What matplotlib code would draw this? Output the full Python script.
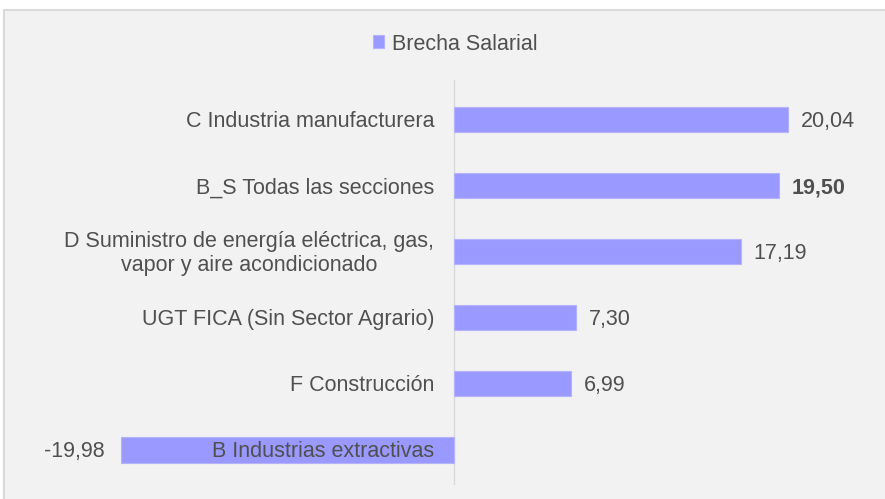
import matplotlib.pyplot as plt
from matplotlib.patches import Rectangle

# data, bottom to top
categories = ['B Industrias extractivas', 'F Construcción', 'UGT FICA (Sin Sector Agrario)',
              'D Suministro de energía eléctrica, gas,\nvapor y aire acondicionado',
              'B_S Todas las secciones', 'C Industria manufacturera']
values = [-19.98, 6.99, 7.30, 17.19, 19.50, 20.04]
value_labels = ['-19,98', '6,99', '7,30', '17,19', '19,50', '20,04']
bold_label = 'B_S Todas las secciones'

W, H = 885, 499
FS = 15.5
plt.rcParams['font.family'] = ['Liberation Sans', 'DejaVu Sans']

fig = plt.figure(figsize=(W / 100, H / 100), dpi=100)
fig.patch.set_facecolor('white')
# grey chart area with border, cut off on right and bottom
fig.patches.append(Rectangle((4 / W, -0.01), 1.0, (H - 10) / H + 0.01, transform=fig.transFigure,
                             facecolor='#F2F2F2', edgecolor='#D9D9D9', linewidth=1.5, zorder=-5))

x0, x1 = 20, 870
y_top, y_bot = 80, 485
ax = fig.add_axes([x0 / W, 1 - y_bot / H, (x1 - x0) / W, (y_bot - y_top) / H])
ax.set_facecolor('none')
ax.set_zorder(2)

ppu = (788 - 454) / 20.04
ax.set_xlim((x0 - 454) / ppu, (x1 - 454) / ppu)
ax.set_ylim(-0.53, 5.6)

ypos = list(range(len(categories)))
ax.barh(ypos, values, height=0.38, color='#9999FF', edgecolor='#B3B3FF', linewidth=0.8,
        label='Brecha Salarial', zorder=2)
ax.axvline(0, color='#D9D9D9', linewidth=1, zorder=1)

txt = '#505050'
for y, cat, v, lab in zip(ypos, categories, values, value_labels):
    ax.annotate(cat, (0, y), xytext=(-20, -2), textcoords='offset pixels',
                ha='right', va='center', multialignment='center', fontsize=FS,
                color=txt, zorder=3, linespacing=1.2)
    w = 'bold' if cat == bold_label else 'normal'
    if v >= 0:
        ax.annotate(lab, (v, y), xytext=(13, -2), textcoords='offset pixels',
                    ha='left', va='center', fontsize=FS, color=txt, fontweight=w)
    else:
        ax.annotate(lab, (v, y), xytext=(-16, -2), textcoords='offset pixels',
                    ha='right', va='center', fontsize=FS, color=txt, fontweight=w)

ax.set_xticks([])
ax.set_yticks([])
for s in ax.spines.values():
    s.set_visible(False)

fig.legend(loc='center', bbox_to_anchor=(455 / W, 1 - 44 / H), frameon=False, fontsize=FS,
           handlelength=0.55, handleheight=0.55, handletextpad=0.35, labelcolor=txt)

fig.savefig('out.png', dpi=100)
